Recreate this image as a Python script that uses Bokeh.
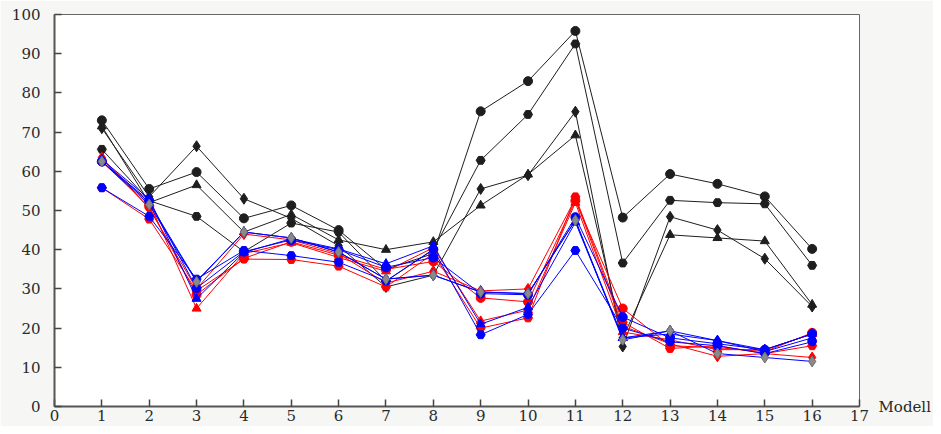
from bokeh.plotting import figure
from bokeh.models import FixedTicker, LinearAxis
from bokeh.embed import file_html
from bokeh.resources import INLINE

modell = list(range(1, 17))

# black series
black_circle   = [73, 55.5, 59.8, 48, 51.3, 45, 35, 39, 75.3, 83, 95.8, 48.2, 59.3, 56.8, 53.6, 40.2]
black_pentagon = [65.6, 52.5, 48.5, 39.5, 46.8, 44.5, 32, 40, 62.8, 74.5, 92.5, 36.6, 52.6, 52, 51.7, 36]
black_diamond  = [71, 53.5, 66.4, 53, 48, 41, 30.5, 33.5, 55.5, 59, 75.2, 15.3, 48.4, 45, 37.7, 25.5]
black_triangle = [71.5, 52, 56.5, 44.5, 49, 42.5, 40, 42, 51.3, 59.2, 69.2, 17.5, 43.8, 43, 42.2, 26]

# red series
red_circle   = [62.5, 51, 28.5, 37.8, 42, 38.6, 35, 37, 27.7, 26.7, 52.5, 25, 15.5, 15, 14, 18.8]
red_pentagon = [55.8, 47.8, 29.5, 37.6, 37.5, 35.8, 30.5, 39, 20, 22.6, 53.5, 21.5, 14.8, 15.5, 13.5, 15.5]
red_triangle = [63, 52, 25, 39, 41.8, 38, 34.5, 40.5, 21.8, 24.6, 52, 19, 17, 14.5, 14.5, 18.5]
red_diamond  = [63.5, 50.5, 30, 44, 42.5, 39, 31.5, 34.5, 29.5, 30, 53, 20.5, 16, 12.8, 13.5, 12.5]

# blue series
blue_circle   = [62.5, 52.5, 30.2, 39.5, 42.5, 40, 35.5, 38, 28.8, 28.5, 48.3, 22.8, 17.5, 16, 14.5, 18.5]
blue_pentagon = [55.8, 48.5, 32.5, 39.8, 38.5, 36.8, 32, 40.1, 18.3, 23.5, 39.8, 20, 16.5, 15.5, 13.5, 16.5]
blue_triangle = [63, 53, 27.5, 39.3, 42.8, 40.2, 36.4, 41, 21, 25.3, 47, 17.5, 18.5, 16.8, 14, 17.5]
blue_diamond  = [62.5, 52, 32, 44.5, 43, 39.4, 32.5, 33.5, 29.2, 28.8, 47.5, 17.5, 19.3, 16.8, 14.5, 18.5]

# gray series (blue line)
gray_diamond = [62.5, 51.5, 31.8, 44.5, 43, 39.4, 32.5, 33.5, 29.2, 28.8, 47.5, 17, 19.3, 13.5, 12.5, 11.5]

x_ticks = list(range(0, 18))
y_ticks = list(range(0, 101, 10))
x_title = "Modell"

FONT = "DejaVu Serif"
FSIZE = "15px"

p = figure(width=933, height=426, x_range=(0, 17), y_range=(0, 100),
           output_backend="svg", toolbar_location=None,
           min_border_left=54, min_border_right=72, min_border_top=14, min_border_bottom=20)
p.xgrid.visible = False
p.ygrid.visible = False
p.background_fill_color = "white"
p.border_fill_color = "#f6f6f4"
p.outline_line_color = "#666666"
p.outline_line_width = 1

for ax in (p.xaxis[0], p.yaxis[0]):
    ax.axis_line_color = "#555555"
    ax.axis_line_width = 2
    ax.major_tick_in = 7
    ax.major_tick_out = 0
    ax.major_tick_line_color = "#444444"
    ax.major_tick_line_width = 1.5
    ax.minor_tick_line_color = None
    ax.major_label_text_font = FONT
    ax.major_label_text_font_size = FSIZE
    ax.major_label_text_color = "#2a2a2a"
p.xaxis.ticker = FixedTicker(ticks=x_ticks)
p.yaxis.ticker = FixedTicker(ticks=y_ticks)
p.xaxis.major_label_standoff = 3
p.yaxis.major_label_standoff = 14

# "Modell" label at the right end of the x axis
rax = LinearAxis(ticker=FixedTicker(ticks=[0]), major_label_overrides={0: x_title},
                 axis_line_color=None, major_tick_line_color=None,
                 minor_tick_line_color=None, major_tick_in=0, major_tick_out=0,
                 major_label_standoff=19, major_label_text_font=FONT,
                 major_label_text_font_size=FSIZE, major_label_text_color="#2a2a2a")
p.add_layout(rax, "right")

markers = {"circle": "circle", "pentagon": "hex", "diamond": "diamond", "triangle": "triangle"}
msize = {"circle": 9, "pentagon": 9, "diamond": 11, "triangle": 9}

def draw(vals, color, mk, fill=None, line_color=None):
    lc = line_color or color
    p.line(modell, vals, line_color=lc, line_width=1)
    p.scatter(modell, vals, marker=markers[mk], size=msize[mk],
              fill_color=fill or color, line_color=color, line_width=1)

black = "#1e1e1e"
draw(black_circle, black, "circle")
draw(black_pentagon, black, "pentagon")
draw(black_diamond, black, "diamond")
draw(black_triangle, black, "triangle")

red = "#ff0000"
draw(red_circle, red, "circle")
draw(red_pentagon, red, "pentagon")
draw(red_triangle, red, "triangle")
draw(red_diamond, red, "diamond")

blue = "#0000ff"
draw(blue_circle, blue, "circle")
draw(blue_pentagon, blue, "pentagon")
draw(blue_triangle, blue, "triangle")
draw(blue_diamond, blue, "diamond")

p.line(modell, gray_diamond, line_color=blue, line_width=1)
p.scatter(modell, gray_diamond, marker="diamond", size=11,
          fill_color="#8a8a8a", line_color="#6f6f6f", line_width=1)

open("out.html", "w").write(file_html(p, INLINE))
